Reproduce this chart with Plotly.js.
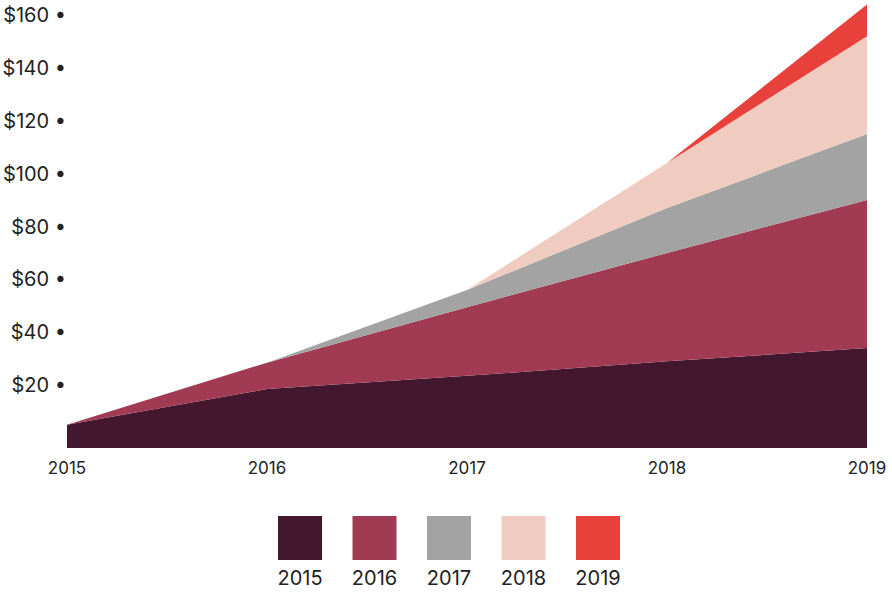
<!DOCTYPE html>
<html>
<head>
<meta charset="utf-8">
<script src="https://cdn.plot.ly/plotly-3.0.1.min.js"></script>
<style>
  html, body { margin: 0; padding: 0; background: #fff; }
  #Grafico { width: 892px; height: 592px; }
</style>
</head>
<body>
<div id="Grafico"></div>
<script>
let anios = [2015, 2016, 2017, 2018, 2019];
let nombres = ['2015', '2016', '2017', '2018', '2019'];
let colores = ['#43182f', '#a13a53', '#a3a3a3', '#f0cbbf', '#e8403a'];

// value added by each year's cohort ($)
let cohorte2015 = [5, 18.5, 23.5, 29, 34];
let cohorte2016 = [0, 10, 26, 41, 56];
let cohorte2017 = [0, 0, 6.5, 17, 25];
let cohorte2018 = [0, 0, 0, 17, 37];
let cohorte2019 = [0, 0, 0, 0, 12];

let valoresY = [20, 40, 60, 80, 100, 120, 140, 160];
let textosY = valoresY.map(v => '$' + v + ' \u2022');

let series = [cohorte2015, cohorte2016, cohorte2017, cohorte2018, cohorte2019];

let trazas = series.map((s, i) => ({
	x: anios,
	y: s,
	name: nombres[i],
	type: 'scatter',
	mode: 'none',
	stackgroup: 'uno',
	fillcolor: colores[i],
	line: {width: 0},
	hoverinfo: 'skip'
}));

// legend drawn as its own little subplot: squares, with the year underneath
let posLeyenda = nombres.map((n, i) => i);

let cuadros = {
	x: posLeyenda,
	y: nombres.map(() => 0),
	type: 'scatter',
	mode: 'markers',
	marker: {symbol: 'square', size: 44, color: colores, line: {width: 0}},
	xaxis: 'x2',
	yaxis: 'y2',
	hoverinfo: 'skip',
	cliponaxis: false
};

let etiquetas = {
	x: posLeyenda,
	y: nombres.map(() => -0.78),
	text: nombres,
	type: 'scatter',
	mode: 'text',
	textposition: 'middle center',
	textfont: {family: 'Inter, sans-serif', size: 20, color: '#222'},
	xaxis: 'x2',
	yaxis: 'y2',
	hoverinfo: 'skip',
	cliponaxis: false
};

let yMin = -3.8;

let layout = {
	width: 892,
	height: 592,
	margin: {l: 67, r: 25, t: 0, b: 0},
	paper_bgcolor: '#fff',
	plot_bgcolor: '#fff',
	showlegend: false,
	font: {family: 'Inter, sans-serif', color: '#222'},
	xaxis: {
		range: [anios[0], anios[anios.length - 1]],
		tickvals: anios,
		ticktext: nombres,
		showgrid: false,
		zeroline: false,
		showline: false,
		ticks: '',
		ticklabelstandoff: 8,
		tickfont: {size: 17, color: '#222'},
		fixedrange: true
	},
	yaxis: {
		domain: [0.2432, 1],
		range: [yMin, 165.7],
		tickvals: valoresY,
		ticktext: textosY,
		showgrid: false,
		zeroline: false,
		showline: false,
		ticks: '',
		tickfont: {size: 20, color: '#222'},
		fixedrange: true
	},
	xaxis2: {
		anchor: 'y2',
		range: [-3.128, 7.611],
		visible: false,
		fixedrange: true
	},
	yaxis2: {
		domain: [0, 0.1824],
		range: [-1, 1],
		visible: false,
		fixedrange: true
	},
	shapes: [{
		type: 'rect',
		xref: 'x', yref: 'y',
		x0: anios[0], x1: anios[anios.length - 1],
		y0: yMin, y1: 0,
		fillcolor: colores[0],
		line: {width: 0},
		layer: 'below'
	}]
};

let contenedor = document.getElementById('Grafico');
Plotly.newPlot(contenedor, trazas.concat([cuadros, etiquetas]), layout, {displayModeBar: false, staticPlot: true});
</script>
</body>
</html>
